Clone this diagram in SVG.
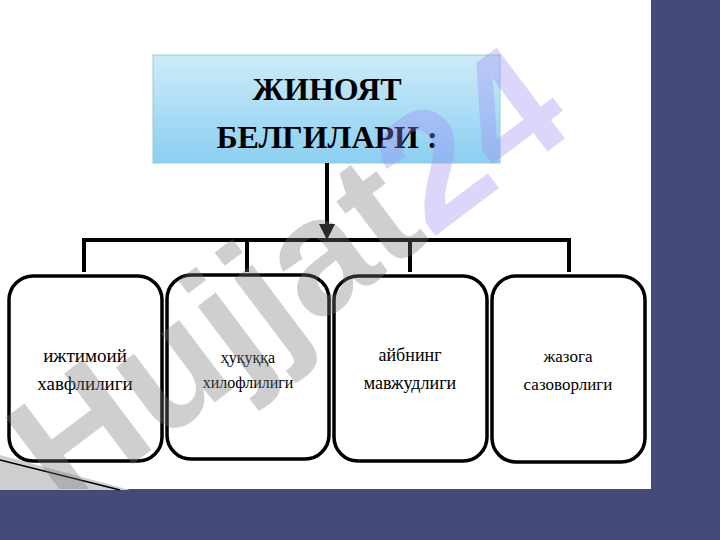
<svg xmlns="http://www.w3.org/2000/svg" width="720" height="540" viewBox="0 0 720 540">
<defs>
<linearGradient id="tg" x1="0" y1="0" x2="0" y2="1"><stop offset="0" stop-color="#cdebf9"/><stop offset="1" stop-color="#8ccff0"/></linearGradient>
<marker id="ah" viewBox="0 0 10 10" refX="5" refY="5" markerWidth="4" markerHeight="4" orient="auto"><path d="M0,0 L10,5 L0,10 z" fill="#000"/></marker>
<clipPath id="wa"><rect x="0" y="0" width="651" height="489"/></clipPath>
</defs>
<style>
.box{fill:#fff;stroke:#000;stroke-width:3.5}
.t{font-family:"Liberation Serif",serif;fill:#000;text-anchor:middle}
.c{stroke:#000;stroke-width:4;fill:none}
</style>
<rect width="720" height="540" fill="#fff"/>
<rect x="651" y="0" width="69" height="490" fill="#454a78"/>
<rect x="0" y="489" width="720" height="51" fill="#454a78"/>
<polygon points="0,455 130,490 0,490" fill="#cfcfcf"/>
<line x1="0" y1="460" x2="120" y2="490" stroke="#000" stroke-width="1.5"/>
<g id="title">
<rect x="153" y="55" width="347" height="108" fill="url(#tg)" stroke="#9cc" stroke-width="1"/>
<text class="t" x="327" y="100" font-size="32" font-weight="bold">ЖИНОЯТ</text>
<text class="t" x="327" y="148" font-size="32" font-weight="bold">БЕЛГИЛАРИ :</text>
</g>
<g id="connectors">
<line class="c" x1="327" y1="163" x2="327" y2="232" marker-end="url(#ah)"/>
<polyline class="c" points="84,272 84,240 569,240 569,272"/>
<line class="c" x1="247" y1="240" x2="247" y2="272"/>
<line class="c" x1="410" y1="240" x2="410" y2="272"/>
</g>
<g id="n1"><rect class="box" x="9" y="276" width="153" height="185" rx="24"/>
<text class="t" x="85" y="362" font-size="19">ижтимоий</text><text class="t" x="85" y="390" font-size="19">хавфлилиги</text></g>
<g id="n2"><rect class="box" x="167" y="275" width="162" height="184" rx="24"/>
<text class="t" x="248" y="363" font-size="16">ҳуқуққа</text><text class="t" x="248" y="388" font-size="16">хилофлилиги</text></g>
<g id="n3"><rect class="box" x="334" y="276" width="153" height="185" rx="24"/>
<text class="t" x="410" y="361" font-size="18">айбнинг</text><text class="t" x="410" y="389" font-size="18">мавжудлиги</text></g>
<g id="n4"><rect class="box" x="492" y="276" width="153" height="186" rx="24"/>
<text class="t" x="568" y="362" font-size="17">жазога</text><text class="t" x="568" y="390" font-size="17">сазоворлиги</text></g>
<g clip-path="url(#wa)">
<text x="0" y="0" font-family="Liberation Sans,sans-serif" font-weight="bold" font-size="165" opacity="0.35" transform="translate(65,515) rotate(-37)"><tspan fill="#777">Hujjat</tspan><tspan fill="#9f8bf5">24</tspan></text>
</g>
</svg>
